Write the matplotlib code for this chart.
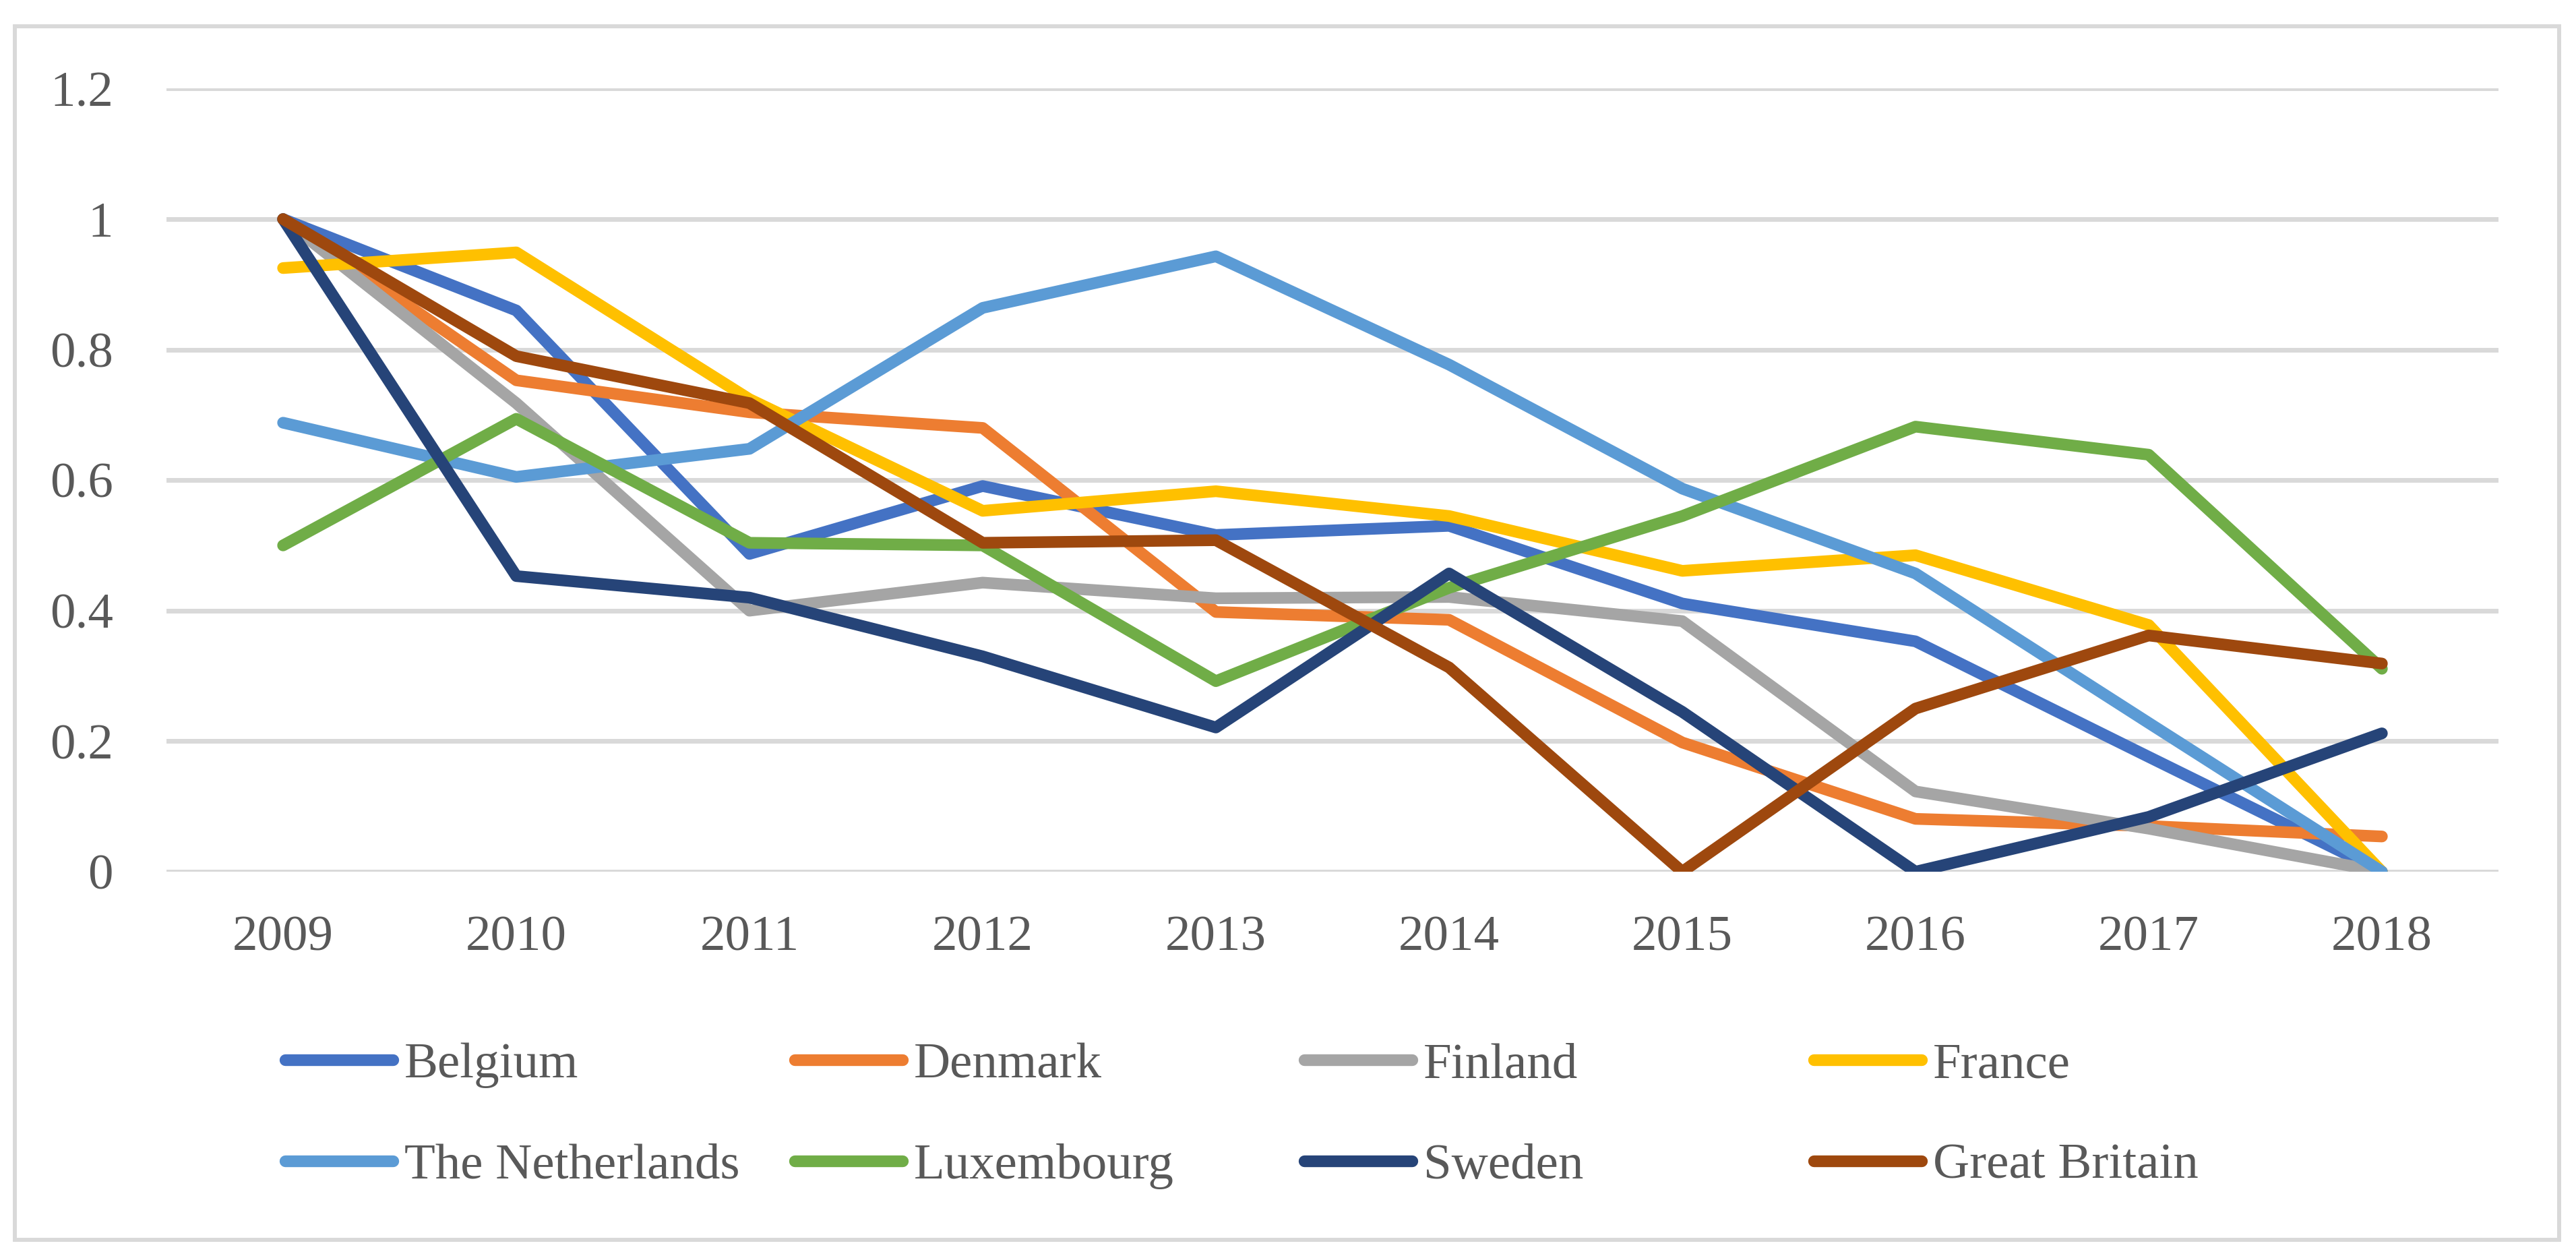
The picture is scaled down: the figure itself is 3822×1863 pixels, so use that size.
import matplotlib
matplotlib.use("Agg")
import matplotlib.pyplot as plt
from matplotlib.patches import Rectangle
from matplotlib.lines import Line2D

years = ["2009", "2010", "2011", "2012", "2013", "2014", "2015", "2016", "2017", "2018"]

belgium = [1.0, 0.86, 0.487, 0.591, 0.516, 0.53, 0.411, 0.353, 0.176, 0.0]
denmark = [1.0, 0.753, 0.704, 0.68, 0.398, 0.386, 0.198, 0.081, 0.07, 0.054]
finland = [1.0, 0.718, 0.40, 0.443, 0.419, 0.421, 0.384, 0.123, 0.066, 0.0]
france = [0.925, 0.949, 0.724, 0.553, 0.583, 0.545, 0.461, 0.485, 0.378, 0.0]
netherlands = [0.688, 0.605, 0.648, 0.864, 0.943, 0.777, 0.587, 0.457, 0.228, 0.0]
luxembourg = [0.50, 0.694, 0.504, 0.50, 0.292, 0.435, 0.545, 0.682, 0.639, 0.311]
sweden = [1.0, 0.453, 0.42, 0.33, 0.221, 0.457, 0.245, 0.0, 0.084, 0.212]
britain = [1.0, 0.79, 0.718, 0.504, 0.508, 0.313, 0.0, 0.25, 0.362, 0.319]

names = ["Belgium", "Denmark", "Finland", "France",
         "The Netherlands", "Luxembourg", "Sweden", "Great Britain"]
series = [belgium, denmark, finland, france, netherlands, luxembourg, sweden, britain]
colors = ["#4472C4", "#ED7D31", "#A5A5A5", "#FFC000",
          "#5B9BD5", "#70AD47", "#264478", "#9E480E"]

W, H = 3823, 1863
txt = "#595959"
fs = 54
lw = 12.5

plt.rcParams['font.family'] = ['Liberation Serif', 'DejaVu Serif']

fig = plt.figure(figsize=(W / 100, H / 100), dpi=100)
fig.patch.set_facecolor("white")

# outer chart border
fig.patches.append(Rectangle((22 / W, 1 - 1839 / H), (3797 - 22) / W, (1839 - 39) / H,
                             transform=fig.transFigure, fill=False,
                             edgecolor="#D9D9D9", linewidth=4.3))

ax = fig.add_axes([247 / W, 1 - 1293 / H, (3707 - 247) / W, (1293 - 131.4) / H])

x = list(range(len(years)))
for name, vals, c in zip(names, series, colors):
    ax.plot(x, vals, color=c, lw=lw, solid_capstyle="round",
            solid_joinstyle="round", label=name, zorder=3)

ax.set_xlim(-0.5, len(years) - 0.5)
ax.set_ylim(0, 1.2)
ax.set_yticks([0, 0.2, 0.4, 0.6, 0.8, 1.0, 1.2])
ax.set_yticklabels(["0", "0.2", "0.4", "0.6", "0.8", "1", "1.2"])
ax.set_xticks(x)
ax.set_xticklabels(years)
ax.yaxis.grid(True, color="#D9D9D9", lw=5, zorder=0)
ax.set_axisbelow(True)
for s in ax.spines.values():
    s.set_visible(False)
ax.tick_params(axis="both", length=0, labelsize=fs, labelcolor=txt)
ax.tick_params(axis="y", pad=57)
ax.tick_params(axis="x", pad=47)

# legend: one column of two entries at each position
col_x = [423, 1179, 1935, 2691]
yc = 1655
for i, cx in enumerate(col_x):
    hs = [Line2D([], [], color=colors[i], lw=lw, solid_capstyle="round"),
          Line2D([], [], color=colors[i + 4], lw=lw, solid_capstyle="round")]
    fig.legend(hs, [names[i], names[i + 4]], loc="center left",
               bbox_to_anchor=(cx / W, 1 - yc / H), frameon=False,
               fontsize=fs, labelcolor=txt, borderpad=0, borderaxespad=0,
               handlelength=2.13, handletextpad=0.23, labelspacing=1.08)

fig.savefig("out.png", dpi=100, facecolor="white")
